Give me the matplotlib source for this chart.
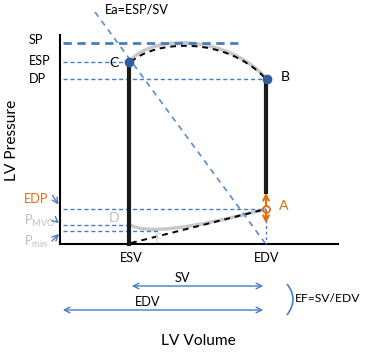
import matplotlib.pyplot as plt
from matplotlib.path import Path
from matplotlib.patches import PathPatch

# diagram drawn in pixel-like units of the 370x353 picture (y grows downward)
blue = '#4a7dbf'
orange = '#e36c0a'
grey = '#bfbfbf'

# key points of the pressure-volume loop
pt_C = (129, 62)
pt_B = (267, 79)
pt_A = (266, 209)
pt_D = (129, 224)
esv_x, edv_x = 129, 266
axis_y = 244
axis_x = 60

# pressure levels
p_levels = {'SP': 43, 'ESP': 62, 'DP': 79, 'EDP': 209, 'MVO': 225, 'min': 231}

# loop curves (bezier control points)
top_grey = [pt_C, (150, 35), (225, 33), pt_B]
top_dash = [(131, 62), (155, 40), (225, 36), (265, 78)]
low_grey = [pt_D, (150, 240), pt_A]
low_dash = [(131, 243), pt_A]

fig = plt.figure(figsize=(3.7, 3.53), dpi=100)
ax = fig.add_axes([0, 0, 1, 1])
ax.set_xlim(0, 370)
ax.set_ylim(353, 0)
ax.axis('off')
fs = 9.2
font = 'Lato'

# axes
ax.plot([axis_x, axis_x], [35, axis_y], color='black', lw=1.5)
ax.plot([axis_x, 338], [axis_y, axis_y], color='black', lw=1.5)

# horizontal pressure lines
ax.plot([63, 242], [p_levels['SP']] * 2, color=blue, lw=2, ls=(0, (3, 2)))
ax.plot([63, esv_x], [p_levels['ESP']] * 2, color=blue, lw=1, ls=(0, (3, 2)))
ax.plot([63, pt_B[0]], [p_levels['DP']] * 2, color=blue, lw=1, ls=(0, (3, 2)))
ax.plot([63, edv_x], [p_levels['EDP']] * 2, color=blue, lw=1, ls=(0, (3, 2)))
ax.plot([63, esv_x], [p_levels['MVO']] * 2, color=blue, lw=1, ls=(0, (3, 2)))
ax.plot([63, 160], [p_levels['min']] * 2, color=blue, lw=1, ls=(0, (3, 2)))
ax.plot([edv_x, edv_x], [pt_A[1], axis_y], color=blue, lw=1, ls=(0, (2, 2)))

# Ea line
ax.plot([95, 265], [12, 243], color='#5b8bd0', lw=1.2, ls=(0, (3.5, 3)))

# loop curves
def bez(pts, **kw):
    codes = [Path.MOVETO] + ([Path.CURVE4] * 3 if len(pts) == 4 else
                             [Path.CURVE3] * 2 if len(pts) == 3 else [Path.LINETO])
    ax.add_patch(PathPatch(Path(pts, codes), fill=False, **kw))

bez(top_grey, color='#c8c8c8', lw=2.5)
bez(low_grey, color='#c8c8c8', lw=2.5)
bez(top_dash, color='black', lw=1.4, ls=(0, (3, 2.5)))
bez(low_dash, color='black', lw=1.4, ls=(0, (3, 2.5)))

# isovolumic phases
ax.plot([esv_x, esv_x], [pt_C[1], axis_y], color='#1a1a1a', lw=3)
ax.plot([edv_x, edv_x], [pt_B[1], pt_A[1] - 17], color='#1a1a1a', lw=3)

# points
ax.plot(*pt_C, 'o', color='#2f5e99', ms=6)
ax.plot(*pt_B, 'o', color='#2f5e99', ms=6)
ax.annotate('', xy=(edv_x, 190), xytext=(edv_x, 209),
            arrowprops=dict(arrowstyle='->', color=orange, lw=1.5))
ax.annotate('', xy=(edv_x, 226), xytext=(edv_x, 209),
            arrowprops=dict(arrowstyle='->', color=orange, lw=1.5))
ax.plot(*pt_A, 'o', mfc='none', mec=orange, ms=5, mew=1.3)

# point labels
ax.text(285, 77, 'B', fontsize=fs + 1, va='center', ha='center', family=font)
ax.text(114, 63, 'C', fontsize=fs + 1, va='center', ha='center', family=font)
ax.text(284, 206, 'A', fontsize=fs + 1, va='center', ha='center', color=orange, family=font)
ax.text(114, 218, 'D', fontsize=fs + 1, va='center', ha='center', color=grey, family=font)
ax.text(158, 239, 'E', fontsize=fs, va='center', ha='center', color='#d9d9d9', family=font)

# pressure labels
ax.text(29, 40, 'SP', fontsize=fs, va='center', ha='left', family=font)
ax.text(29, 61, 'ESP', fontsize=fs, va='center', ha='left', family=font)
ax.text(29, 79, 'DP', fontsize=fs, va='center', ha='left', family=font)
ax.text(24, 199, 'EDP', fontsize=fs, va='center', ha='left', color=orange, family=font)
ax.text(24, 221, r'P$_{\mathregular{MVO}}$', fontsize=fs, va='center', ha='left', color=grey, family=font)
ax.text(24, 242, r'P$_{\mathregular{min}}$', fontsize=fs, va='center', ha='left', color=grey, family=font)
for start, end in [((51, 193), (60, 207)), ((54, 219), (61, 225)), ((50, 243), (61, 232))]:
    ax.annotate('', xy=end, xytext=start,
                arrowprops=dict(arrowstyle='->', color=blue, lw=1))

# title and axis labels
ax.text(137, 9, 'Ea=ESP/SV', fontsize=fs, va='center', ha='center', family=font)
ax.text(12, 140, 'LV Pressure', fontsize=fs + 2, va='center', ha='center', rotation=90, family=font)
ax.text(131, 258, 'ESV', fontsize=fs, va='center', ha='center', family=font)
ax.text(267, 258, 'EDV', fontsize=fs, va='center', ha='center', family=font)
ax.text(198, 341, 'LV Volume', fontsize=fs + 2, va='center', ha='center', family=font)

# SV / EDV arrows
ax.annotate('', xy=(esv_x, 286), xytext=(edv_x, 286),
            arrowprops=dict(arrowstyle='<->', color=blue, lw=1))
ax.annotate('', xy=(axis_x, 310), xytext=(edv_x, 310),
            arrowprops=dict(arrowstyle='<->', color=blue, lw=1))
ax.text(182, 278, 'SV', fontsize=fs, va='center', ha='center', family=font)
ax.text(148, 302, 'EDV', fontsize=fs, va='center', ha='center', family=font)

# EF bracket
bez([(287, 284), (299, 299), (287, 315)], color=blue, lw=1.2)
ax.text(295, 299, 'EF=SV/EDV', fontsize=fs - 0.5, va='center', ha='left', family=font)

fig.savefig('out.png', dpi=100)
